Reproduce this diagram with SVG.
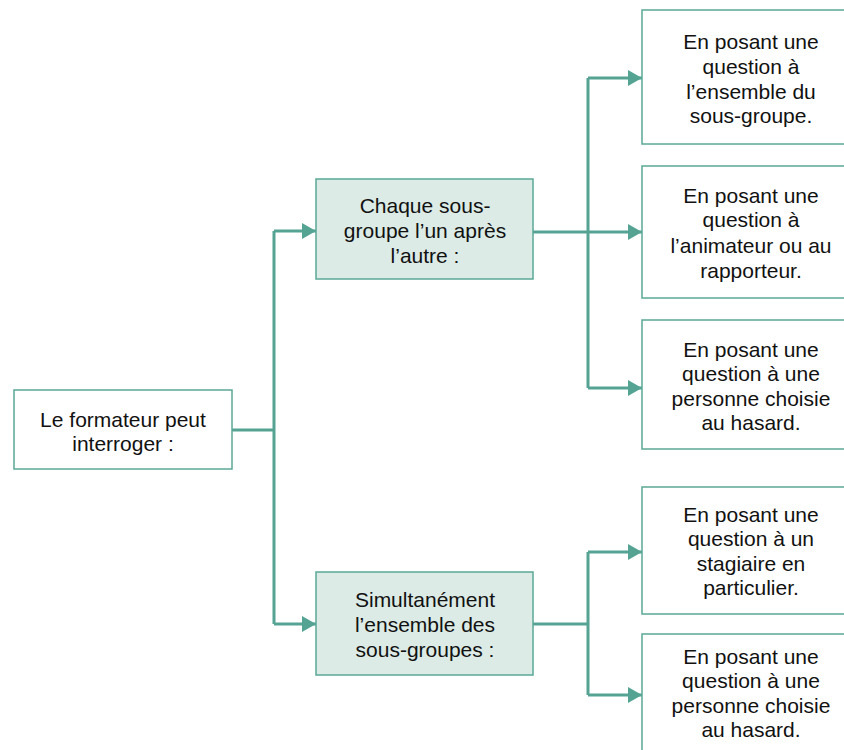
<svg xmlns="http://www.w3.org/2000/svg" width="844" height="750" viewBox="0 0 844 750">
  <defs>
    <marker id="arrow" viewBox="0 0 14 16" refX="14" refY="8" markerWidth="14" markerHeight="16" markerUnits="userSpaceOnUse" orient="auto">
      <path d="M0,0 L14,8 L0,16 Z" fill="#55a393"/>
    </marker>
    <style>
      .box { fill: #ffffff; stroke: #5aa897; stroke-width: 1.5; }
      .sub { fill: #dcebe6; stroke: #5aa897; stroke-width: 1.5; }
      .lbl { font-family: "Liberation Sans", Arial, sans-serif; font-size: 21px; fill: #111111; text-anchor: middle; }
      .wire { fill: none; stroke: #55a393; stroke-width: 3; }
    </style>
  </defs>
  <rect width="844" height="750" fill="#ffffff"/>

  <g id="connectors">
    <path class="wire" d="M232,430 H274"/>
    <path class="wire" d="M274,231 V624"/>
    <path class="wire" d="M274,231 H316" marker-end="url(#arrow)"/>
    <path class="wire" d="M274,624 H316" marker-end="url(#arrow)"/>
    <path class="wire" d="M533,232 H588"/>
    <path class="wire" d="M588,78 V388"/>
    <path class="wire" d="M588,78 H642" marker-end="url(#arrow)"/>
    <path class="wire" d="M588,232 H642" marker-end="url(#arrow)"/>
    <path class="wire" d="M588,388 H642" marker-end="url(#arrow)"/>
    <path class="wire" d="M533,624 H588"/>
    <path class="wire" d="M588,552 V695"/>
    <path class="wire" d="M588,552 H642" marker-end="url(#arrow)"/>
    <path class="wire" d="M588,695 H642" marker-end="url(#arrow)"/>
  </g>

  <g id="root">
    <rect class="box" x="14" y="390" width="218" height="79"/>
    <text class="lbl" x="123" y="427">Le formateur peut</text>
    <text class="lbl" x="123" y="451">interroger :</text>
  </g>

  <g id="sequential">
    <rect class="sub" x="316" y="179" width="217" height="100"/>
    <text class="lbl" x="425" y="213">Chaque sous-</text>
    <text class="lbl" x="425" y="238">groupe l’un après</text>
    <text class="lbl" x="425" y="263">l’autre :</text>
  </g>

  <g id="simultaneous">
    <rect class="sub" x="316" y="572" width="217" height="103"/>
    <text class="lbl" x="425" y="607">Simultanément</text>
    <text class="lbl" x="425" y="632">l’ensemble des</text>
    <text class="lbl" x="425" y="657">sous-groupes :</text>
  </g>

  <g id="whole-subgroup">
    <rect class="box" x="642" y="10" width="220" height="134"/>
    <text class="lbl" x="751" y="49">En posant une</text>
    <text class="lbl" x="751" y="74">question à</text>
    <text class="lbl" x="751" y="99">l’ensemble du</text>
    <text class="lbl" x="751" y="123">sous-groupe.</text>
  </g>

  <g id="facilitator">
    <rect class="box" x="642" y="166" width="220" height="132"/>
    <text class="lbl" x="751" y="203">En posant une</text>
    <text class="lbl" x="751" y="227">question à</text>
    <text class="lbl" x="751" y="253">l’animateur ou au</text>
    <text class="lbl" x="751" y="278">rapporteur.</text>
  </g>

  <g id="random-person-a">
    <rect class="box" x="642" y="320" width="220" height="129"/>
    <text class="lbl" x="751" y="357">En posant une</text>
    <text class="lbl" x="751" y="381">question à une</text>
    <text class="lbl" x="751" y="406">personne choisie</text>
    <text class="lbl" x="751" y="430">au hasard.</text>
  </g>

  <g id="trainee">
    <rect class="box" x="642" y="487" width="220" height="127"/>
    <text class="lbl" x="751" y="522">En posant une</text>
    <text class="lbl" x="751" y="546">question à un</text>
    <text class="lbl" x="751" y="571">stagiaire en</text>
    <text class="lbl" x="751" y="595">particulier.</text>
  </g>

  <g id="random-person-b">
    <rect class="box" x="642" y="634" width="220" height="130"/>
    <text class="lbl" x="751" y="664">En posant une</text>
    <text class="lbl" x="751" y="688">question à une</text>
    <text class="lbl" x="751" y="713">personne choisie</text>
    <text class="lbl" x="751" y="737">au hasard.</text>
  </g>
</svg>
